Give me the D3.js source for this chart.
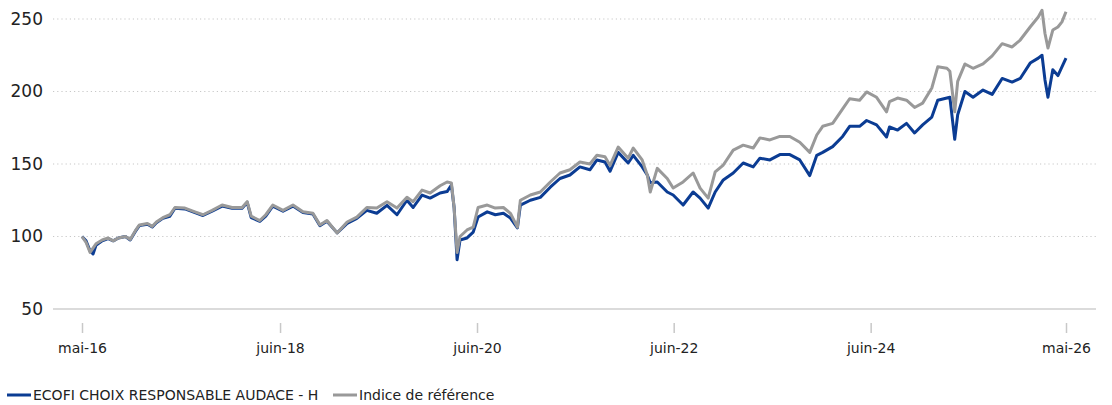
<!DOCTYPE html>
<html>
<head>
<meta charset="utf-8">
<script src="https://cdn.jsdelivr.net/npm/d3@7"></script>
<style>
  body { margin: 0; background: #fff; }
  svg { display: block; font-family: "DejaVu Sans", sans-serif; }
</style>
</head>
<body>
<svg id="chart" width="1112" height="405"></svg>
<script>
// dates of the sampled points
const dates = [
  "2016-05-27","2016-06-11","2016-06-26","2016-07-07","2016-07-18","2016-08-10","2016-09-01","2016-09-20",
  "2016-10-09","2016-11-04","2016-11-22","2016-12-11","2016-12-26","2017-01-25","2017-02-12","2017-02-27",
  "2017-03-23","2017-04-18","2017-05-07","2017-06-13","2017-07-20","2017-08-19","2017-09-22","2017-10-29",
  "2017-12-05","2018-01-11","2018-01-30","2018-02-14","2018-03-18","2018-04-09","2018-05-05","2018-06-12",
  "2018-07-19","2018-08-25","2018-10-01","2018-10-27","2018-11-22","2018-12-30","2019-02-05","2019-03-13",
  "2019-04-19","2019-05-26","2019-07-03","2019-08-09","2019-09-15","2019-10-08","2019-11-10","2019-12-10",
  "2020-01-16","2020-02-11","2020-02-27","2020-03-08","2020-03-19","2020-03-30","2020-04-25","2020-05-18",
  "2020-06-05","2020-07-09","2020-08-08","2020-09-07","2020-10-03","2020-10-29","2020-11-09","2020-12-16",
  "2021-01-22","2021-02-28","2021-04-05","2021-05-12","2021-06-18","2021-07-25","2021-08-20","2021-09-19",
  "2021-10-08","2021-11-07","2021-12-14","2022-01-02","2022-02-04","2022-02-23","2022-03-06","2022-04-01",
  "2022-05-08","2022-05-30","2022-07-06","2022-08-12","2022-09-07","2022-10-07","2022-11-02","2022-12-02",
  "2023-01-08","2023-02-14","2023-03-23","2023-04-17","2023-05-24","2023-06-30","2023-08-06","2023-09-12",
  "2023-10-19","2023-11-14","2023-12-06","2024-01-12","2024-02-18","2024-03-15","2024-04-21","2024-05-17",
  "2024-06-23","2024-07-30","2024-08-10","2024-09-09","2024-10-12","2024-11-11","2024-12-11","2025-01-14",
  "2025-02-05","2025-03-11","2025-03-22","2025-04-09","2025-04-20","2025-05-17","2025-06-16","2025-07-23",
  "2025-08-26","2025-10-02","2025-11-08","2025-12-08","2026-01-14","2026-02-13","2026-02-27","2026-03-10",
  "2026-03-21","2026-04-08","2026-04-27","2026-05-12","2026-05-27"
];

// ECOFI CHOIX RESPONSABLE AUDACE - H
const fundValues = [
  100, 97, 90, 88, 94, 97, 98.5, 97, 99, 100, 97.6, 103.5, 107.5, 108.5, 106.5, 109.5,
  112.5, 114, 119.5, 119, 116.5, 114.5, 117.5, 121, 119.5, 119.5, 123.5, 113, 110.5, 114, 121, 117.5,
  121, 116.5, 115.5, 107.5, 110.5, 102.5, 109, 112.5, 118, 116, 121.5, 115, 125, 120, 128.6, 126.5,
  130, 131, 135.5, 120, 84, 97.6, 99, 103, 113.4, 117, 115, 116, 112.7, 106, 121.7, 125,
  127, 134, 140, 142.4, 148, 146, 152.8, 151.4, 145, 158, 150.7, 156, 148, 142.4, 137, 137.6,
  130.7, 128.6, 121.7, 130.7, 126.5, 119.6, 130.7, 139, 143.8, 150.7, 148, 154, 152.8, 156.5, 156.5, 152.8,
  142, 156, 158, 162, 169, 176, 176, 180, 177, 168.6, 175.5, 173.4, 178, 171.4, 177, 182.4,
  194, 195.5, 196, 167, 184, 200, 196, 201, 198, 209, 206.5, 209, 219.6, 223, 225, 208,
  196, 215, 211, 217, 223
];

// Indice de référence
const benchValues = [
  100, 96, 89, 92, 95, 97.6, 99, 97, 99, 100, 98, 104, 108, 109, 107, 110,
  113, 115, 120, 119.6, 117, 115, 118, 121.7, 120, 120, 124, 114, 111, 115, 121.7, 118,
  121.7, 117, 116, 108, 111, 102.4, 110, 113.4, 120, 119.6, 124, 119.6, 127, 124, 132, 130,
  135, 137.6, 137, 120, 89, 100, 104.5, 106.5, 120, 121.7, 119.6, 120, 116, 106.5, 125, 128.6,
  130.7, 137.6, 143.8, 146, 151.4, 150, 156, 155, 149, 161.7, 154, 161, 152.8, 142.4, 130.7, 147,
  140, 133.4, 137.6, 143.8, 133.4, 126.5, 144.5, 149.3, 159.6, 163, 161, 168, 166.6, 169, 169, 165,
  158, 170, 176, 178, 188, 195, 194, 199.7, 196, 186, 193, 195.5, 194, 189, 192, 202.4,
  217, 216, 214, 186, 207, 219, 216, 219, 224.6, 233, 230.7, 235.5, 244.5, 251.4, 256, 240,
  230, 242.4, 244.5, 248, 255
];

const seriesNames = ["ECOFI CHOIX RESPONSABLE AUDACE - H", "Indice de référence"];
const yTicks = [50, 100, 150, 200, 250];
const xTickDates = ["2016-05-27", "2018-06-01", "2020-06-01", "2022-06-01", "2024-06-01", "2026-05-27"];
const xTickLabels = ["mai-16", "juin-18", "juin-20", "juin-22", "juin-24", "mai-26"];

const parse = d3.timeParse("%Y-%m-%d");
const fund = dates.map((d, i) => ({ date: parse(d), value: fundValues[i] }));
const bench = dates.map((d, i) => ({ date: parse(d), value: benchValues[i] }));

const svg = d3.select("#chart");
const gridLeft = 53, gridRight = 1096;

const x = d3.scaleTime()
  .domain([parse(xTickDates[0]), parse(xTickDates[xTickDates.length - 1])])
  .range([82, 1066]);

const y = d3.scaleLinear()
  .domain([50, 250])
  .range([309, 19]);

// grid lines
svg.append("g")
  .selectAll("line")
  .data(yTicks)
  .enter().append("line")
  .attr("x1", gridLeft)
  .attr("x2", gridRight)
  .attr("y1", d => y(d))
  .attr("y2", d => y(d))
  .attr("stroke", d => d === 50 ? "#cfcfcf" : "#c8c8c8")
  .attr("stroke-width", d => d === 50 ? 1.5 : 1.2)
  .attr("stroke-dasharray", d => d === 50 ? null : "1.2,3");

// y labels
svg.append("g")
  .selectAll("text")
  .data(yTicks)
  .enter().append("text")
  .attr("x", 43)
  .attr("y", d => y(d))
  .attr("dy", "0.35em")
  .attr("text-anchor", "end")
  .attr("font-size", 17)
  .attr("fill", "#222")
  .text(d => d);

// x axis ticks + labels
const xAxis = d3.axisBottom(x)
  .tickValues(xTickDates.map(parse))
  .tickFormat((d, i) => xTickLabels[i])
  .tickSize(10)
  .tickPadding(10);

const gx = svg.append("g")
  .attr("transform", "translate(0,323)")
  .call(xAxis);
gx.select(".domain").remove();
gx.selectAll(".tick line").attr("stroke", "#c8c8c8").attr("stroke-width", 1.5);
gx.selectAll(".tick text")
  .attr("font-size", 14)
  .attr("font-family", "'DejaVu Sans', sans-serif")
  .attr("fill", "#222");

// lines
const line = d3.line()
  .x(d => x(d.date))
  .y(d => y(d.value));

svg.append("path")
  .datum(fund)
  .attr("fill", "none")
  .attr("stroke", "#0b3c93")
  .attr("stroke-width", 3)
  .attr("stroke-linejoin", "round")
  .attr("d", line);

svg.append("path")
  .datum(bench)
  .attr("fill", "none")
  .attr("stroke", "#999999")
  .attr("stroke-width", 3)
  .attr("stroke-linejoin", "round")
  .attr("d", line);

// legend
const legendColors = ["#0b3c93", "#999999"];
const legendX = [7, 333];
const legend = svg.append("g")
  .selectAll("g")
  .data(seriesNames)
  .enter().append("g")
  .attr("transform", (d, i) => "translate(" + legendX[i] + ",395)");

legend.append("line")
  .attr("x1", 0)
  .attr("x2", 24)
  .attr("stroke", (d, i) => legendColors[i])
  .attr("stroke-width", 3);

legend.append("text")
  .attr("x", 26)
  .attr("dy", "0.35em")
  .attr("font-size", 14)
  .attr("fill", "#222")
  .text(d => d);
</script>
</body>
</html>
